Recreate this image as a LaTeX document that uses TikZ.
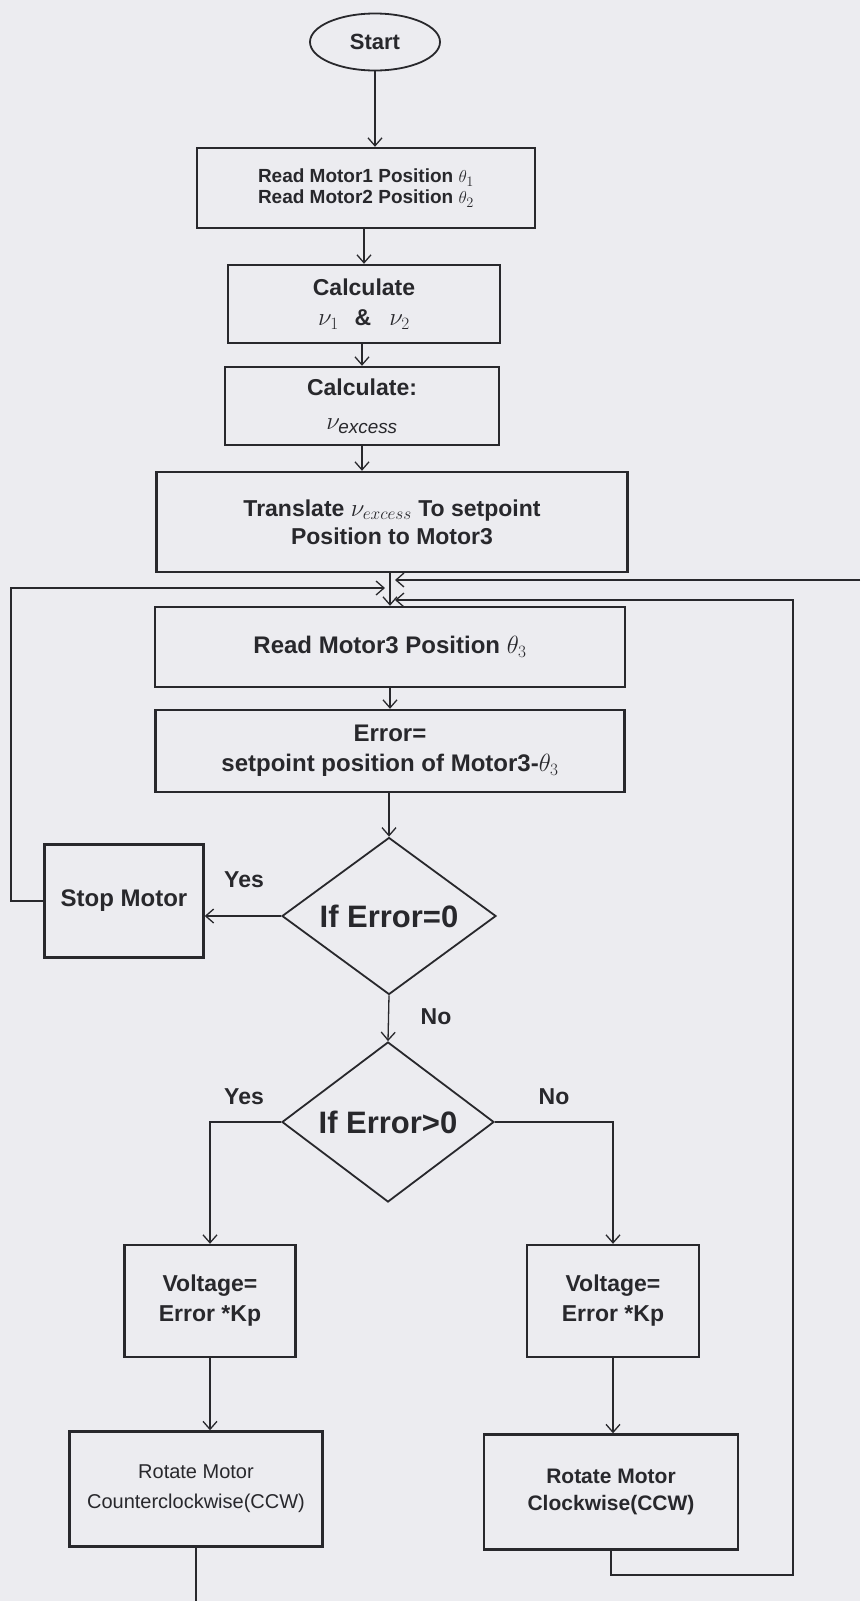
\documentclass[tikz,border=0pt]{standalone}
\usepackage{fontspec}
\setmainfont{Liberation Sans}
\usetikzlibrary{shapes.geometric,arrows.meta}
\definecolor{ink}{RGB}{40,40,44}
\definecolor{paper}{RGB}{236,236,240}
\begin{document}
\begin{tikzpicture}[x=1pt,y=-1pt,
  box/.style={draw=ink,line width=2.4pt,inner sep=0pt,align=center,text=ink},
  dec/.style={diamond,aspect=1.4,draw=ink,line width=1.8pt,inner sep=0pt,align=center,text=ink,font=\fontsize{31}{34}\selectfont\bfseries},
  flow/.style={draw=ink,line width=1.3pt,-{Straight Barb[length=8pt,width=14pt]}},
  wire/.style={draw=ink,line width=1.3pt},
  lbl/.style={text=ink,font=\fontsize{23}{26}\selectfont\bfseries}]
\useasboundingbox (0,0) rectangle (860,1601);
\fill[paper] (0,0) rectangle (860,1601);
\node[ellipse,draw=ink,line width=1.8pt,minimum width=130pt,minimum height=57pt,inner sep=0pt,text=ink,font=\fontsize{22}{24}\selectfont\bfseries] (start) at (375,42) {Start};
\node[box,minimum width=338pt,minimum height=80pt,font=\fontsize{19}{21}\selectfont\bfseries] (read12) at (366,188) {Read Motor1 Position $\theta_1$\\Read Motor2 Position $\theta_2$};
\node[box,minimum width=272pt,minimum height=78pt,font=\fontsize{23}{30}\selectfont\bfseries] (calc12) at (364,304) {Calculate\\$\nu_1$\hspace{16pt}\&\hspace{18pt}$\nu_2$\hspace{40pt}};
\node[box,minimum width=274pt,minimum height=78pt,font=\fontsize{23}{34}\selectfont\bfseries] (calcex) at (362,406) {Calculate:\\{\fontsize{27}{27}\selectfont$\nu_{\mathit{excess}}$}};
\node[box,minimum width=471pt,minimum height=100pt,font=\fontsize{23}{28}\selectfont\bfseries] (transl) at (392,522) {Translate {\fontsize{24}{24}\selectfont$\nu_{excess}$} To setpoint\\Position to Motor3};
\node[box,minimum width=470pt,minimum height=80pt,font=\fontsize{24}{28}\selectfont\bfseries] (read3) at (390,647) {Read Motor3 Position $\theta_3$};
\node[box,minimum width=469pt,minimum height=82pt,font=\fontsize{24}{30}\selectfont\bfseries] (err) at (390,751) {Error=\\setpoint position of Motor3-$\theta_3$};
\node[dec,minimum width=214pt,minimum height=157pt] (if0) at (389,916) {If Error=0};
\node[box,minimum width=159pt,minimum height=113pt,font=\fontsize{24}{28}\selectfont\bfseries] (stop) at (124,901) {Stop Motor};
\node[dec,minimum width=212pt,minimum height=160pt] (ifpos) at (388,1122) {If Error>0};
\node[box,minimum width=171pt,minimum height=112pt,font=\fontsize{23}{30}\selectfont\bfseries] (voltl) at (210,1301) {Voltage=\\Error *Kp};
\node[box,minimum width=172pt,minimum height=112pt,font=\fontsize{23}{30}\selectfont\bfseries] (voltr) at (613,1301) {Voltage=\\Error *Kp};
\node[box,minimum width=253pt,minimum height=115pt,font=\fontsize{20}{30}\selectfont] (rotl) at (196,1489) {Rotate Motor\\Counterclockwise(CCW)};
\node[box,minimum width=254pt,minimum height=115pt,font=\fontsize{21}{27}\selectfont\bfseries] (rotr) at (611,1492) {Rotate Motor\\Clockwise(CCW)};
\node[lbl] (yes0) at (244,880) {Yes};
\node[lbl] (no0) at (436,1017) {No};
\node[lbl] (yes1) at (244,1097) {Yes};
\node[lbl] (no1) at (554,1097) {No};
\coordinate (jl) at (385,588);
\coordinate (ju) at (395,580);
\coordinate (jd) at (395,600);
\coordinate (lc) at (11,588);
\coordinate (rc) at (793,1575);
\coordinate (rtop) at (860,580);
\coordinate (bot) at (0,1601);
\draw[flow] (start.south) -- (start.south |- read12.north);
\draw[flow] (read12.south -| calc12.north) -- (calc12.north);
\draw[flow] (calc12.south -| calcex.north) -- (calcex.north);
\draw[flow] (calcex.south) -- (calcex.south |- transl.north);
\draw[flow] (transl.south -| read3.north) -- (read3.north);
\draw[flow] (read3) -- (err);
\draw[flow] (err.south -| if0.north) -- (if0.north);
\draw[flow] (if0.west) -- (if0.west -| stop.east);
\draw[flow] (stop.west) -| (lc) -- (jl);
\draw[flow] (if0.south) -- (ifpos.north);
\draw[flow] (ifpos.west) -| (voltl.north);
\draw[flow] (ifpos.east) -| (voltr.north);
\draw[flow] (voltl.south) -- (voltl.south |- rotl.north);
\draw[flow] (voltr.south) -- (voltr.south |- rotr.north);
\draw[flow] (rotr.south) |- (rc) |- (jd);
\draw[flow] (rtop) -- (ju);
\draw[wire] (rotl.south) -- (rotl.south |- bot);
\end{tikzpicture}
\end{document}
